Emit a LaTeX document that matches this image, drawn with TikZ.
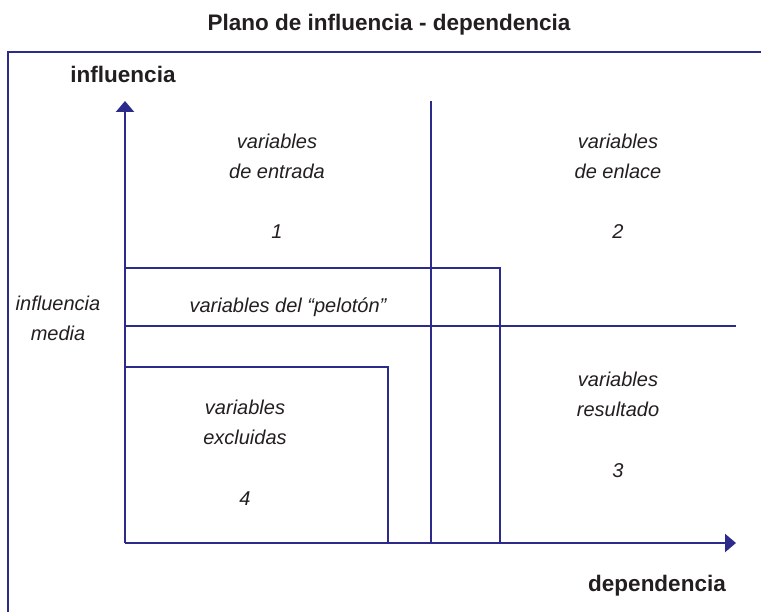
\documentclass[tikz,border=0pt]{standalone}
\usepackage{fontspec}
\setmainfont{Liberation Sans}
\usetikzlibrary{arrows.meta}
\definecolor{navy}{RGB}{44,42,138}
\definecolor{ink}{RGB}{35,31,32}
\tikzset{
  ln/.style={draw=navy,line width=2.3pt},
  frame/.style={draw=navy,line width=2.8pt},
  axis/.style={draw=navy,line width=2.3pt,-{Triangle[length=11pt,width=18pt]}},
  lab/.style={text=ink,font=\fontsize{20}{24}\selectfont\itshape,anchor=base,inner sep=0pt},
  head/.style={text=ink,font=\fontsize{22.5}{27}\selectfont\bfseries,anchor=base,inner sep=0pt}
}
\begin{document}
\begin{tikzpicture}[x=1pt,y=-1pt]
\useasboundingbox (0,0) rectangle (761,612);
% frame
\coordinate (fb) at (8,614);
\coordinate (fc) at (8,52);
\coordinate (fr) at (763,52);
\draw[frame] (fb) -- (fc) -- (fr);
% axes
\coordinate (o) at (125,543);
\coordinate (ytip) at (125,101);
\coordinate (xtip) at (736,543);
\draw[axis] (o) -- (ytip);
\draw[axis] (o) -- (xtip);
% middle vertical line
\coordinate (mvt) at (431,101);
\coordinate (mvb) at (431,543);
\draw[ln] (mvt) -- (mvb);
% influencia media line
\coordinate (mhl) at (125,326);
\coordinate (mhr) at (736,326);
\draw[ln] (mhl) -- (mhr);
% peloton box
\coordinate (p1) at (125,268);
\coordinate (p2) at (500,268);
\coordinate (p3) at (500,543);
\draw[ln] (p1) -- (p2) -- (p3);
% excluded box
\coordinate (e1) at (125,367);
\coordinate (e2) at (388,367);
\coordinate (e3) at (388,543);
\draw[ln] (e1) -- (e2) -- (e3);
% texts
\node[head] (title) at (389,31) {Plano de influencia - dependencia};
\node[head] (yl) at (123,83) {influencia};
\node[head] (xl) at (657,591) {dependencia};
\node[lab] (a1) at (277,149) {variables};
\node[lab] (a2) at (277,179) {de entrada};
\node[lab] (a3) at (277,239) {1};
\node[lab] (b1) at (618,149) {variables};
\node[lab] (b2) at (618,179) {de enlace};
\node[lab] (b3) at (618,239) {2};
\node[lab] (pl) at (288,313) {variables del “pelotón”};
\node[lab] (m1) at (58,311) {influencia};
\node[lab] (m2) at (58,341) {media};
\node[lab] (c1) at (618,387) {variables};
\node[lab] (c2) at (618,417) {resultado};
\node[lab] (c3) at (618,477) {3};
\node[lab] (d1) at (245,414) {variables};
\node[lab] (d2) at (245,445) {excluidas};
\node[lab] (d3) at (245,505) {4};
\end{tikzpicture}
\end{document}
